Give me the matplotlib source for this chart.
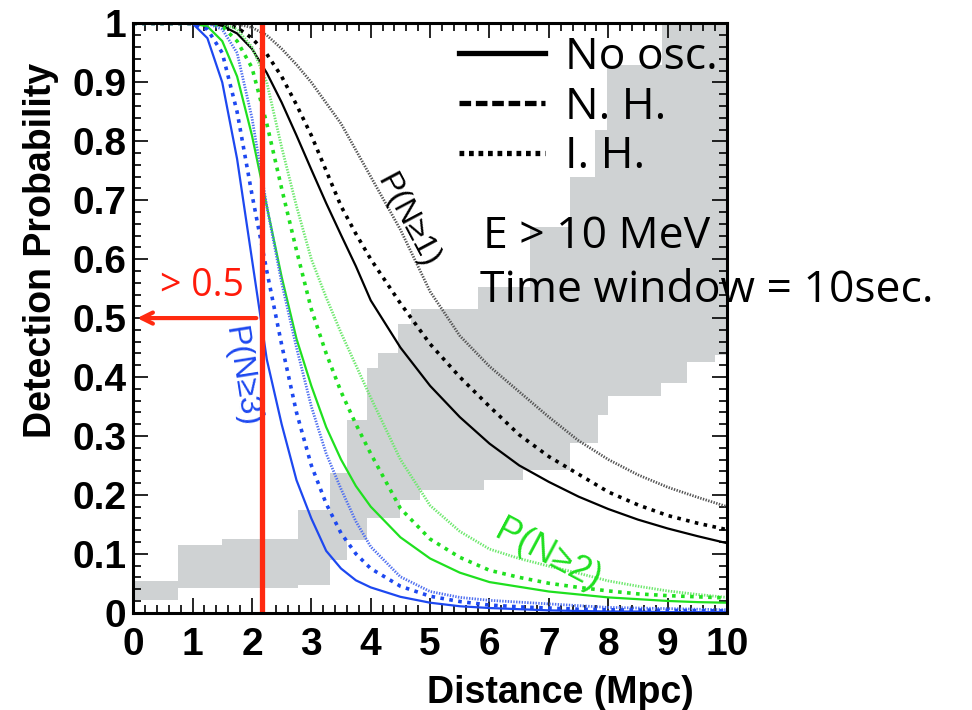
import numpy as np
import matplotlib
matplotlib.use("Agg")
import matplotlib.pyplot as plt
from matplotlib.lines import Line2D
from matplotlib.ticker import MultipleLocator

# distance grid (Mpc) and detection probabilities
dist = [0, 0.5, 1.0, 1.25, 1.5, 1.75, 2.0, 2.25, 2.5, 2.75, 3.0, 3.25, 3.5, 3.75,
        4.0, 4.5, 5.0, 5.5, 6.0, 6.5, 7.0, 7.5, 8.0, 8.5, 9.0, 9.5, 10.0]

n1_noosc = [1, 1, 1, 0.9997, 0.996, 0.983, 0.957, 0.916, 0.866, 0.81, 0.752, 0.695, 0.641, 0.588,
            0.53, 0.45, 0.385, 0.332, 0.287, 0.25, 0.222, 0.197, 0.176, 0.158, 0.143, 0.13, 0.118]
n1_nh = [1, 1, 1, 1, 0.999, 0.993, 0.975, 0.948, 0.91, 0.862, 0.81, 0.75, 0.69, 0.643,
         0.60, 0.525, 0.456, 0.40, 0.35, 0.302, 0.265, 0.235, 0.205, 0.183, 0.165, 0.152, 0.141]
n1_ih = [1, 1, 1, 1, 1, 0.999, 0.993, 0.98, 0.957, 0.93, 0.9, 0.865, 0.83, 0.785,
         0.74, 0.65, 0.545, 0.47, 0.418, 0.375, 0.332, 0.292, 0.26, 0.234, 0.213, 0.196, 0.18]

n2_noosc = [1, 1, 1, 0.995, 0.97, 0.91, 0.81, 0.69, 0.57, 0.465, 0.385, 0.315, 0.26, 0.215,
            0.18, 0.128, 0.092, 0.068, 0.052, 0.044, 0.036, 0.031, 0.026, 0.023, 0.02, 0.018, 0.017]
n2_nh = [1, 1, 1, 1, 0.995, 0.97, 0.925, 0.83, 0.72, 0.615, 0.515, 0.44, 0.375, 0.32,
         0.27, 0.177, 0.125, 0.094, 0.072, 0.06, 0.05, 0.043, 0.037, 0.032, 0.029, 0.027, 0.025]
n2_ih = [1, 1, 1, 1, 1, 0.99, 0.96, 0.9, 0.79, 0.69, 0.6, 0.535, 0.475, 0.42,
         0.365, 0.26, 0.182, 0.138, 0.108, 0.092, 0.079, 0.067, 0.054, 0.045, 0.037, 0.031, 0.026]

n3_noosc = [1, 1, 1, 0.975, 0.9, 0.77, 0.6, 0.43, 0.32, 0.225, 0.16, 0.105, 0.075, 0.055,
            0.043, 0.027, 0.017, 0.011, 0.008, 0.006, 0.004, 0.003, 0.002, 0.002, 0.001, 0.001, 0.001]
n3_nh = [1, 1, 1, 0.99, 0.95, 0.85, 0.71, 0.58, 0.455, 0.34, 0.25, 0.185, 0.135, 0.1,
         0.075, 0.045, 0.028, 0.019, 0.013, 0.01, 0.008, 0.006, 0.005, 0.0045, 0.004, 0.0035, 0.003]
n3_ih = [1, 1, 1, 1, 0.99, 0.95, 0.84, 0.69, 0.56, 0.45, 0.35, 0.27, 0.21, 0.155,
         0.112, 0.061, 0.036, 0.026, 0.021, 0.018, 0.015, 0.012, 0.009, 0.008, 0.007, 0.006, 0.005]

# grey band (step edges and levels)
band_up_edges = [0, 0.76, 1.5, 2.78, 3.32, 3.6, 3.94, 4.13, 4.46, 4.67, 5.8, 6.69, 7.36, 7.78, 7.98, 8.91, 10]
band_up = [0.053, 0.115, 0.125, 0.175, 0.237, 0.327, 0.415, 0.44, 0.49, 0.515, 0.553, 0.655, 0.74, 0.82, 0.93, 1.0]
band_lo_edges = [0, 0.76, 2.78, 3.32, 3.6, 3.94, 4.5, 4.83, 5.9, 6.57, 7.36, 7.83, 8.0, 8.88, 9.33, 9.8, 10]
band_lo = [0.022, 0.042, 0.047, 0.09, 0.124, 0.161, 0.191, 0.208, 0.225, 0.242, 0.288, 0.336, 0.367, 0.39, 0.425, 0.437]

cut_dist = 2.17
cut_prob = 0.5

BLUE = "#1d48f0"
GREEN = "#1fe01f"
GREEN_L = "#6ee86e"
RED = "#ff2a10"
GREY = "#cfd2d3"
CALIBRI_LIKE = "Open Sans"

solid = dict(ls="-", lw=1.6)
dashed = dict(ls=(0, (1.0, 1.5)), lw=2.6, dash_capstyle="butt")
dotted = dict(ls=(0, (0.5, 0.5)), lw=2.0, dash_capstyle="butt")

fig = plt.figure(figsize=(9.72, 7.10), dpi=100)
ax = fig.add_axes([0.137, 0.137, 0.611, 0.830])


def steps(edges, vals):
    xs = np.repeat(edges, 2)[1:-1]
    ys = np.repeat(vals, 2)
    return xs, ys


ux, uy = steps(band_up_edges, band_up)
lx, ly = steps(band_lo_edges, band_lo)
ax.fill(np.concatenate([ux, lx[::-1]]), np.concatenate([uy, ly[::-1]]),
        color=GREY, lw=0, zorder=1)

ax.plot(dist, n1_ih, color="#555555", **dotted, zorder=3)
ax.plot(dist, n1_nh, color="black", **dashed, zorder=3)
ax.plot(dist, n1_noosc, color="black", **solid, zorder=3)
ax.plot(dist, n2_ih, color=GREEN_L, **dotted, zorder=3)
ax.plot(dist, n2_nh, color=GREEN, **dashed, zorder=3)
ax.plot(dist, n2_noosc, color=GREEN, **solid, zorder=3)
ax.plot(dist, n3_ih, color="#5070f0", **dotted, zorder=3)
ax.plot(dist, n3_nh, color=BLUE, **dashed, zorder=3)
ax.plot(dist, n3_noosc, color=BLUE, **solid, zorder=3)

ax.axvline(cut_dist, color=RED, lw=3.8, zorder=5)
ax.annotate("", xy=(0.02, cut_prob), xytext=(cut_dist - 0.05, cut_prob),
            arrowprops=dict(arrowstyle="->,head_length=0.8,head_width=0.4",
                            color=RED, lw=3), zorder=6)
ax.text(1.16, 0.555, "> 0.5", color="#ff1a0a", fontsize=27, family=CALIBRI_LIKE,
        ha="center", va="center", zorder=6)

ax.text(4.62, 0.665, "P(N\u22651)", rotation=-62, color="black", fontsize=23,
        family="Liberation Sans", ha="center", va="center", rotation_mode="anchor")
ax.text(6.99, 0.097, "P(N\u22652)", rotation=-28, color=GREEN, fontsize=26,
        family="Liberation Sans", ha="center", va="center", rotation_mode="anchor")
ax.text(1.82, 0.40, "P(N\u22653)", rotation=-81, color=BLUE, fontsize=23,
        family="Liberation Sans", ha="center", va="center", rotation_mode="anchor")

handles = [Line2D([], [], color="black", ls="-", lw=3.8),
           Line2D([], [], color="black", ls=(0, (2.2, 0.9)), lw=3.8, dash_capstyle="butt"),
           Line2D([], [], color="black", ls=(0, (0.9, 0.9)), lw=3.8, dash_capstyle="butt")]
leg = ax.legend(handles, ["No osc.", "N. H.", "I. H."], loc="upper left",
                bbox_to_anchor=(0.518, 1.01), frameon=False,
                prop=dict(family=CALIBRI_LIKE, size=32), handlelength=1.95,
                handletextpad=0.45, labelspacing=0.12, borderaxespad=0)
leg.set_zorder(7)

fig.text(0.497, 0.651, "E > 10 MeV", fontsize=32, family=CALIBRI_LIKE, ha="left", va="baseline")
fig.text(0.494, 0.575, "Time window = 10sec.", fontsize=32, family=CALIBRI_LIKE, ha="left", va="baseline")

ax.set_xlim(0, 10)
ax.set_ylim(0, 1)
ax.xaxis.set_major_locator(MultipleLocator(1))
ax.xaxis.set_minor_locator(MultipleLocator(0.2))
ax.yaxis.set_major_locator(MultipleLocator(0.1))
ax.yaxis.set_minor_locator(MultipleLocator(0.02))
ax.set_yticks(np.arange(0, 1.01, 0.1))
ax.set_yticklabels(["0", "0.1", "0.2", "0.3", "0.4", "0.5", "0.6", "0.7", "0.8", "0.9", "1"])
ax.tick_params(which="both", direction="in", top=True, right=True, width=1.2)
ax.tick_params(which="major", length=11)
ax.tick_params(which="minor", length=6)
ax.tick_params(axis="x", pad=10)
ax.tick_params(axis="y", pad=5)
for lab in ax.get_xticklabels() + ax.get_yticklabels():
    lab.set_family("Liberation Sans")
    lab.set_fontweight("bold")
    lab.set_fontsize(28)
for sp in ax.spines.values():
    sp.set_linewidth(2.2)
    sp.set_zorder(8)

ax.set_xlabel("Distance (Mpc)", family="Liberation Sans", fontweight="bold", fontsize=27)
ax.xaxis.set_label_coords(0.719, -0.105)
ax.set_ylabel("Detection Probability", family="Liberation Sans", fontweight="bold", fontsize=27)
ax.yaxis.set_label_coords(-0.125, 0.615)

fig.savefig("out.png", dpi=100)
